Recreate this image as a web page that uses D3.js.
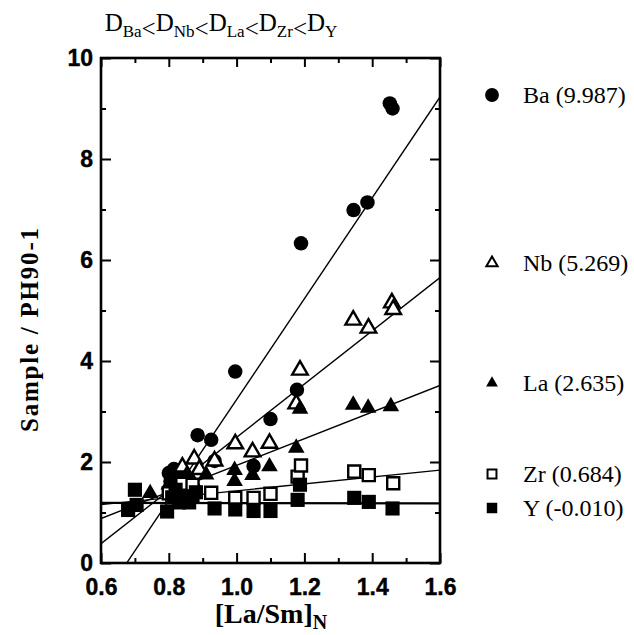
<!DOCTYPE html>
<html>
<head>
<meta charset="utf-8">
<script src="https://cdn.jsdelivr.net/npm/d3@7"></script>
<style>
  body { margin: 0; background: #fff; }
  svg { display: block; }
</style>
</head>
<body>
<div id="grafico"></div>
<script>
// Dados: [La/Sm]N, Sample / PH90-1
const ba = [[0.80,1.78],[0.815,1.86],[0.805,1.62],[0.835,1.72],[0.82,1.70],[0.84,1.62],[0.885,2.53],[0.925,2.44],
  [0.935,2.02],[0.996,3.79],[1.05,1.92],[1.10,2.85],[1.178,3.43],[1.19,6.33],[1.345,6.99],[1.386,7.14],[1.452,9.10],[1.46,9.00]];
const nb = [[0.84,1.90],[0.875,2.06],[0.89,1.85],[0.935,2.02],[0.996,2.36],[1.047,2.20],[1.097,2.37],
  [1.176,3.15],[1.187,3.82],[1.344,4.81],[1.389,4.65],[1.458,5.15],[1.462,5.02]];
const la = [[0.745,1.38],[0.80,1.55],[0.82,1.62],[0.852,1.74],[0.87,1.62],[0.91,1.75],[0.994,1.84],[0.994,1.62],
  [1.047,1.74],[1.097,1.91],[1.176,2.28],[1.187,3.05],[1.344,3.13],[1.388,3.07],[1.455,3.10]];
const zr = [[0.80,1.38],[0.84,1.57],[0.87,1.55],[0.925,1.39],[0.996,1.29],[1.05,1.29],
  [1.10,1.37],[1.18,1.71],[1.19,1.93],[1.347,1.81],[1.39,1.74],[1.462,1.58]];
const yy = [[0.68,1.05],[0.70,1.45],[0.705,1.15],[0.795,1.02],[0.81,1.30],[0.82,1.45],[0.83,1.20],[0.845,1.30],
  [0.86,1.20],[0.87,1.32],[0.88,1.40],[0.935,1.08],[0.996,1.06],[1.05,1.03],[1.10,1.03],[1.18,1.25],[1.187,1.55],
  [1.347,1.29],[1.39,1.21],[1.46,1.08]];

// Retas de ajuste (inclinação = valor da legenda)
const elementos = ['Ba', 'Nb', 'La', 'Zr', 'Y'];
const inclinacao = [9.987, 5.269, 2.635, 0.684, -0.010];
const intercepto = [-6.75, -2.78, -0.70, 0.745, 1.195];
const rotulos = ['Ba (9.987)', 'Nb (5.269)', 'La (2.635)', 'Zr (0.684)', 'Y (-0.010)'];

const xTicks = [0.6, 0.8, 1.0, 1.2, 1.4, 1.6];
const yTicks = [0, 2, 4, 6, 8, 10];

const largura = 634;
const altura = 635;

const svg = d3.select('#grafico').append('svg')
  .attr('width', largura)
  .attr('height', altura);

const x = d3.scaleLinear().domain([0.6, 1.6]).range([101, 440]);
const y = d3.scaleLinear().domain([0, 10]).range([563, 58]);

// Área de recorte
svg.append('clipPath').attr('id', 'recorte')
  .append('rect')
  .attr('x', x(0.6)).attr('y', y(10))
  .attr('width', x(1.6) - x(0.6)).attr('height', y(0) - y(10));

// Retas
const g_linhas = svg.append('g').attr('clip-path', 'url(#recorte)');
elementos.forEach((el, i) => {
  g_linhas.append('line')
    .attr('x1', x(0.6)).attr('y1', y(intercepto[i] + inclinacao[i] * 0.6))
    .attr('x2', x(1.6)).attr('y2', y(intercepto[i] + inclinacao[i] * 1.6))
    .attr('stroke', '#000')
    .attr('stroke-width', el === 'Y' ? 2.2 : 1.4);
});

// Marcadores
const simbolos = {
  Ba: { tipo: d3.symbolCircle, tam: 165, cheio: true },
  Nb: { tipo: d3.symbolTriangle, tam: 105, cheio: false },
  La: { tipo: d3.symbolTriangle, tam: 120, cheio: true },
  Zr: { tipo: d3.symbolSquare, tam: 145, cheio: false },
  Y: { tipo: d3.symbolSquare, tam: 200, cheio: true }
};
const series = { Ba: ba, Nb: nb, La: la, Zr: zr, Y: yy };

elementos.forEach((el) => {
  const s = simbolos[el];
  svg.append('g').selectAll('path')
    .data(series[el])
    .enter()
    .append('path')
    .attr('transform', (d) => `translate(${x(d[0])},${y(d[1])})`)
    .attr('d', d3.symbol().type(s.tipo).size(s.tam))
    .attr('fill', s.cheio ? '#000' : '#fff')
    .attr('stroke', '#000')
    .attr('stroke-width', s.cheio ? 0 : 2.4);
});

// Eixos com ticks para dentro
function estiloEixo(g) {
  g.select('.domain').remove();
  g.selectAll('.tick line').attr('stroke', '#000').attr('stroke-width', 2);
  g.selectAll('.tick text')
    .attr('font-family', 'Liberation Sans, Arial, sans-serif')
    .attr('font-weight', 'bold')
    .attr('font-size', 23)
    .attr('stroke', '#000')
    .attr('stroke-width', 0.4)
    .attr('fill', '#000');
}

const xMenor = d3.range(0.7, 1.6, 0.2);
const yMenor = [1, 3, 5, 7, 9];

svg.append('g').attr('transform', `translate(0,${y(0)})`)
  .call(d3.axisBottom(x).tickValues(xTicks).tickSize(-10).tickPadding(16).tickFormat(d3.format('.1f')))
  .call(estiloEixo);
svg.append('g').attr('transform', `translate(0,${y(0)})`)
  .call(d3.axisBottom(x).tickValues(xMenor).tickSize(-5).tickFormat(''))
  .call(estiloEixo);
svg.append('g').attr('transform', `translate(0,${y(10)})`)
  .call(d3.axisTop(x).tickValues(xTicks).tickSize(-9).tickFormat(''))
  .call(estiloEixo);
svg.append('g').attr('transform', `translate(0,${y(10)})`)
  .call(d3.axisTop(x).tickValues(xMenor).tickSize(-5).tickFormat(''))
  .call(estiloEixo);

svg.append('g').attr('transform', `translate(${x(0.6)},0)`)
  .call(d3.axisLeft(y).tickValues(yTicks).tickSize(-10).tickPadding(8))
  .call(estiloEixo);
svg.append('g').attr('transform', `translate(${x(0.6)},0)`)
  .call(d3.axisLeft(y).tickValues(yMenor).tickSize(-5).tickFormat(''))
  .call(estiloEixo);
svg.append('g').attr('transform', `translate(${x(1.6)},0)`)
  .call(d3.axisRight(y).tickValues(yTicks).tickSize(-10).tickFormat(''))
  .call(estiloEixo);
svg.append('g').attr('transform', `translate(${x(1.6)},0)`)
  .call(d3.axisRight(y).tickValues(yMenor).tickSize(-5).tickFormat(''))
  .call(estiloEixo);

// Moldura
svg.append('rect')
  .attr('x', x(0.6)).attr('y', y(10))
  .attr('width', x(1.6) - x(0.6)).attr('height', y(0) - y(10))
  .attr('fill', 'none')
  .attr('stroke', '#000')
  .attr('stroke-width', 2.6);

// Título superior D_Ba<D_Nb<...
const titulo = svg.append('text')
  .attr('x', 221).attr('y', 31)
  .attr('text-anchor', 'middle')
  .attr('font-family', 'Liberation Serif, Times New Roman, serif')
  .attr('font-size', 25);
elementos.forEach((el, i) => {
  titulo.append('tspan').attr('dy', i === 0 ? 0 : -6).text('D');
  titulo.append('tspan').attr('dy', 6).attr('font-size', 17).text(el);
  if (i < elementos.length - 1) titulo.append('tspan').attr('dy', 0).text('<');
});

// Título do eixo x
const tituloX = svg.append('text')
  .attr('x', 271).attr('y', 623)
  .attr('text-anchor', 'middle')
  .attr('font-family', 'Liberation Serif, Times New Roman, serif')
  .attr('font-weight', 'bold')
  .attr('font-size', 28);
tituloX.append('tspan').text('[La/Sm]');
tituloX.append('tspan').attr('dy', 6).attr('font-size', 20).text('N');

// Título do eixo y
svg.append('text')
  .attr('transform', 'translate(38,330) rotate(-90)')
  .attr('text-anchor', 'middle')
  .attr('font-family', 'Liberation Serif, Times New Roman, serif')
  .attr('font-weight', 'bold')
  .attr('font-size', 25)
  .attr('textLength', 204)
  .text('Sample / PH90-1');

// Legenda
const legendaY = [95, 263, 383, 474, 508];
const legendaSimb = { Ba: 150, Nb: 55, La: 60, Zr: 80, Y: 110 };
elementos.forEach((el, i) => {
  const s = simbolos[el];
  svg.append('path')
    .attr('transform', `translate(492,${legendaY[i]})`)
    .attr('d', d3.symbol().type(s.tipo).size(legendaSimb[el]))
    .attr('fill', s.cheio ? '#000' : '#fff')
    .attr('stroke', '#000')
    .attr('stroke-width', s.cheio ? 0 : 2);
  svg.append('text')
    .attr('x', 523).attr('y', legendaY[i] + 8)
    .attr('font-family', 'Liberation Serif, Times New Roman, serif')
    .attr('font-size', 24)
    .text(rotulos[i]);
});
</script>
</body>
</html>
